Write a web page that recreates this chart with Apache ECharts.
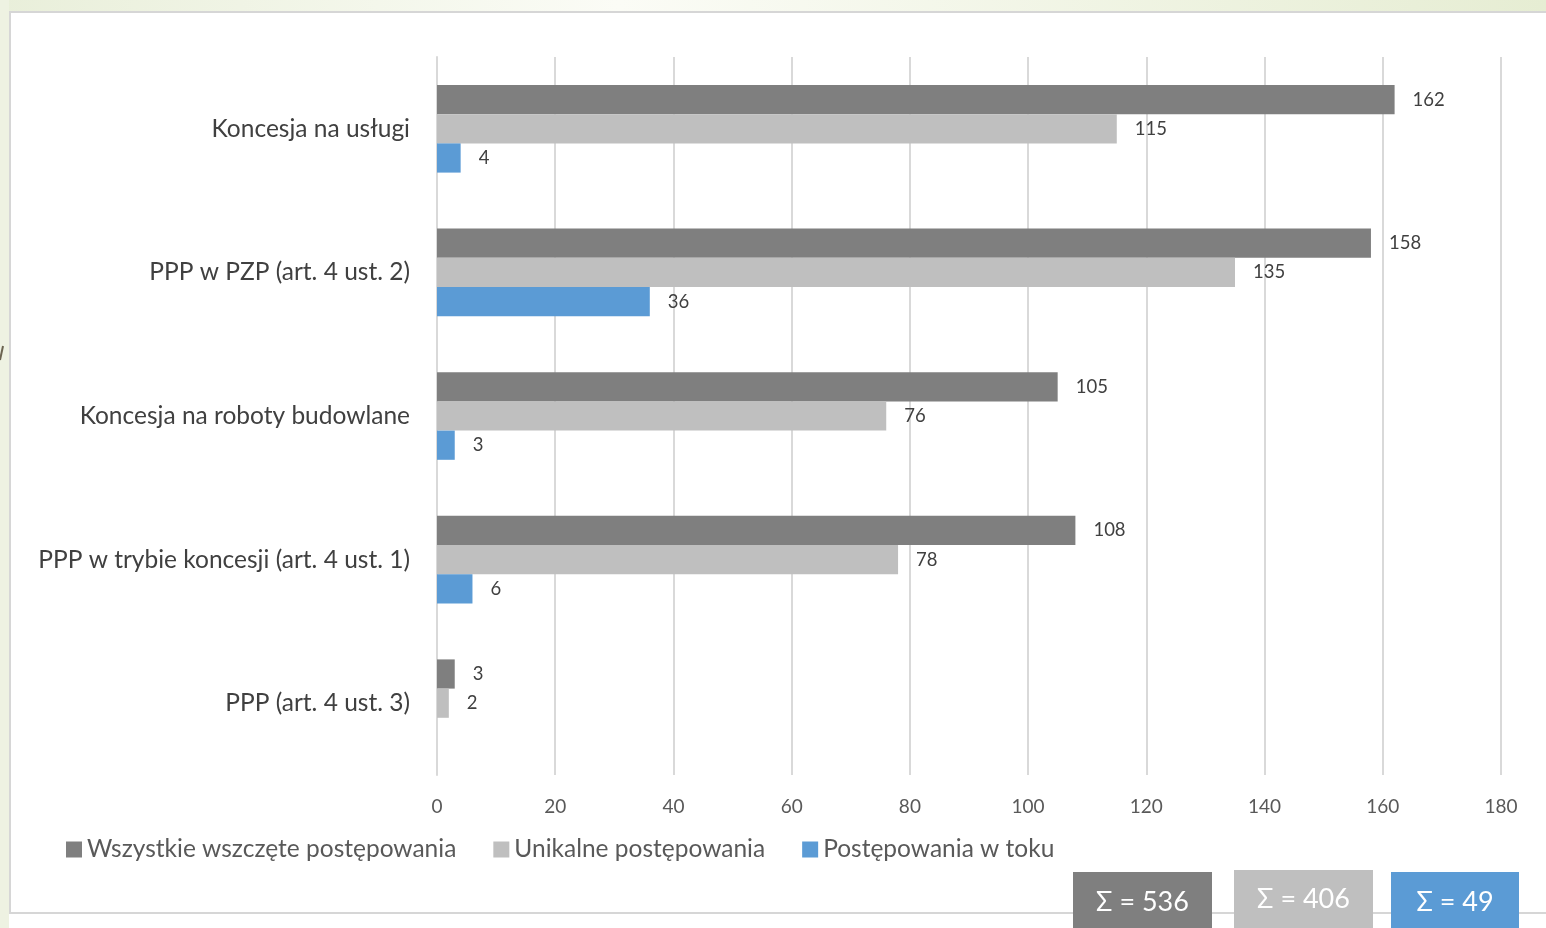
<!DOCTYPE html>
<html><head><meta charset="utf-8">
<script src="https://cdn.jsdelivr.net/npm/echarts@6/dist/echarts.min.js"></script>
<style>html,body{margin:0;padding:0;background:#fff}#c{width:1546px;height:928px}</style>
</head><body><div id="c"></div>
<script>
const categories = ['Koncesja na usługi','PPP w PZP (art. 4 ust. 2)','Koncesja na roboty budowlane','PPP w trybie koncesji (art. 4 ust. 1)','PPP (art. 4 ust. 3)'];
const seriesNames = ['Wszystkie wszczęte postępowania','Unikalne postępowania','Postępowania w toku'];
const allValues = [162,158,105,108,3];
const uniqueValues = [115,135,76,78,2];
const ongoingValues = [4,36,3,6,null];
const xTicks = [0,20,40,60,80,100,120,140,160,180];
const colors = ['#7f7f7f','#bfbfbf','#5b9bd5'];
const sum = a => a.reduce((s,v)=>s+(v||0),0);
const FONT = 'Lato';
const chart = echarts.init(document.getElementById('c'));
const lbl = {show:true, position:'right', distance:18, color:'#404040', fontSize:18.5, fontFamily:FONT};
const mk = (name, data, i) => ({name, type:'bar', data, itemStyle:{color:colors[i]}, barGap:'0%', barCategoryGap:'39%', label:lbl, silent:true});
const sums = [sum(allValues), sum(uniqueValues), sum(ongoingValues)];
chart.setOption({
  animation:false,
  grid:{left:437, right:45, top:57, bottom:153},
  legend:{left:61, top:832, itemWidth:16, itemHeight:16, itemGap:37, icon:'rect',
    textStyle:{fontSize:24.5, color:'#595959', fontFamily:FONT, padding:[0,0,0,0]}, data:seriesNames},
  xAxis:{type:'value', min:xTicks[0], max:xTicks[xTicks.length-1], interval:20,
    axisLine:{show:false}, axisTick:{show:false},
    splitLine:{lineStyle:{color:'#d9d9d9', width:2}},
    axisLabel:{color:'#595959', fontSize:19, fontFamily:FONT, margin:22}},
  yAxis:{type:'category', data:categories, inverse:true,
    axisLine:{lineStyle:{color:'#d9d9d9', width:2}}, axisTick:{show:false},
    axisLabel:{color:'#404040', fontSize:24.5, fontFamily:FONT, margin:27}},
  series:[mk(seriesNames[0], allValues, 0), mk(seriesNames[1], uniqueValues, 1), mk(seriesNames[2], ongoingValues, 2)],
  graphic:[
    {type:'rect', z:-10, shape:{x:0,y:0,width:1546,height:12}, style:{fill:new echarts.graphic.LinearGradient(0,0,1,0,[{offset:0,color:'#e9efda'},{offset:0.4,color:'#fbfcf6'},{offset:1,color:'#e6edd3'}])}},
    {type:'rect', z:-10, shape:{x:0,y:0,width:9,height:928}, style:{fill:'#eef2e2'}},
    {type:'rect', z:-9, shape:{x:10,y:12,width:1546,height:901}, style:{fill:'#fff', stroke:'#d6d6d6', lineWidth:2}},
    {type:'line', z:-8, shape:{x1:0,y1:360,x2:3,y2:346}, style:{stroke:'#6b6450', lineWidth:2}},
    {type:'group', children:[
      {type:'rect', shape:{x:1073,y:872,width:139,height:60}, style:{fill:colors[0]}},
      {type:'text', x:1142.5, y:902, style:{text:'Σ = '+sums[0], fill:'#fff', fontSize:27, fontFamily:FONT, align:'center', verticalAlign:'middle'}},
      {type:'rect', shape:{x:1234,y:870,width:139,height:62}, style:{fill:colors[1]}},
      {type:'text', x:1303.5, y:899, style:{text:'Σ = '+sums[1], fill:'#fff', fontSize:27, fontFamily:FONT, align:'center', verticalAlign:'middle'}},
      {type:'rect', shape:{x:1391,y:872,width:128,height:60}, style:{fill:colors[2]}},
      {type:'text', x:1455, y:902, style:{text:'Σ = '+sums[2], fill:'#fff', fontSize:27, fontFamily:FONT, align:'center', verticalAlign:'middle'}}
    ]}
  ]
});
</script></body></html>
